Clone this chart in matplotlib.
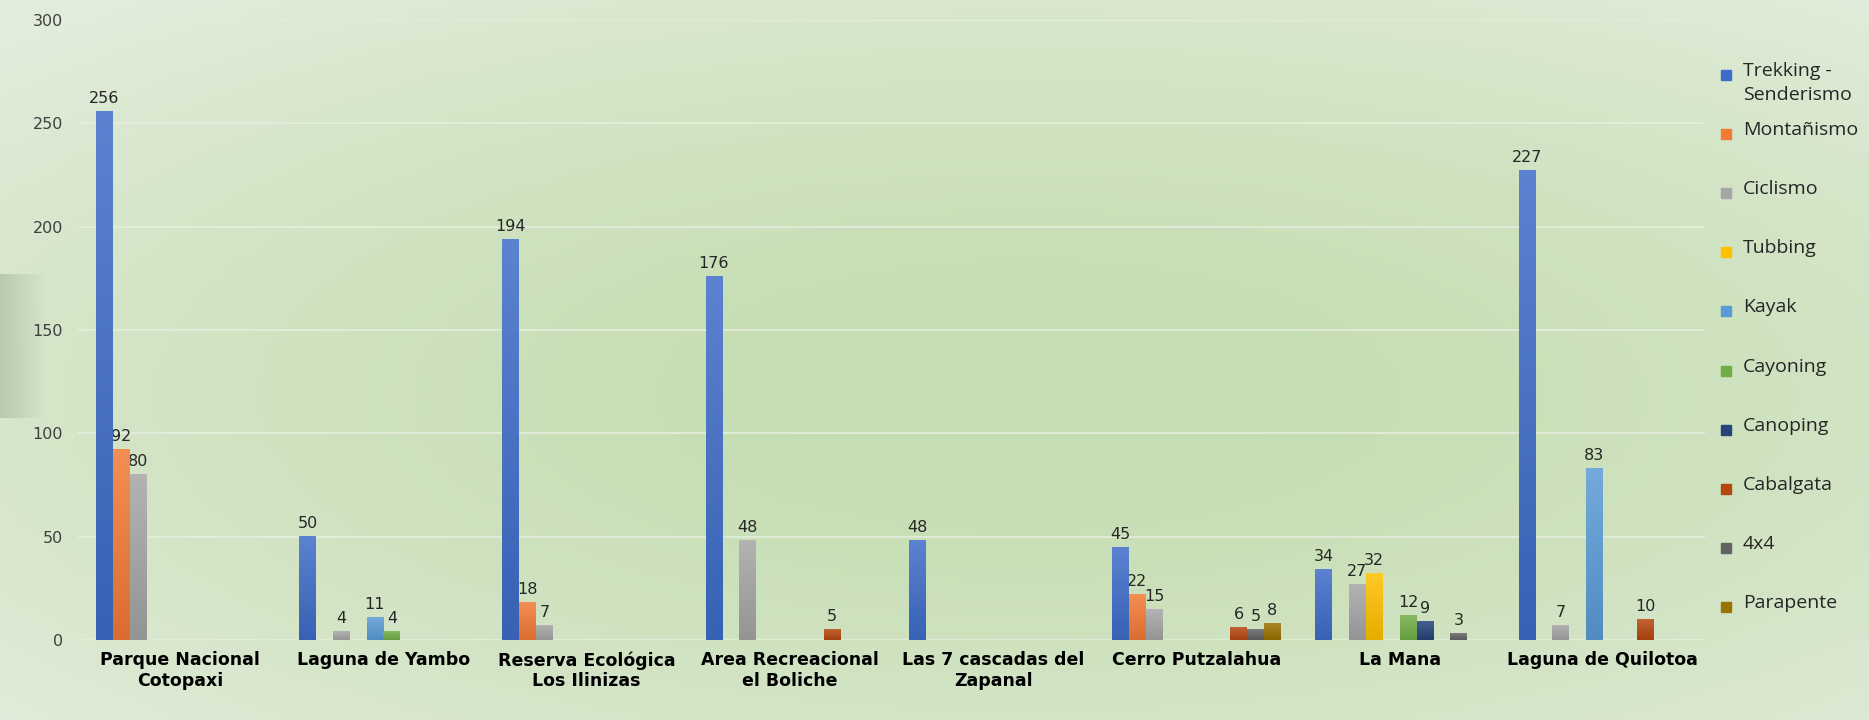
import numpy as np
import matplotlib.pyplot as plt
from matplotlib.patches import Rectangle
from matplotlib.colors import to_rgb

# Datos
lugares = ['Parque Nacional\nCotopaxi', 'Laguna de Yambo', 'Reserva Ecológica\nLos Ilinizas',
           'Area Recreacional\nel Boliche', 'Las 7 cascadas del\nZapanal', 'Cerro Putzalahua',
           'La Mana', 'Laguna de Quilotoa']
actividades = ['Trekking -\nSenderismo', 'Montañismo', 'Ciclismo', 'Tubbing', 'Kayak',
               'Cayoning', 'Canoping', 'Cabalgata', '4x4', 'Parapente']
trekking = [256, 50, 194, 176, 48, 45, 34, 227]
montanismo = [92, 0, 18, 0, 0, 22, 0, 0]
ciclismo = [80, 4, 7, 48, 0, 15, 27, 7]
tubbing = [0, 0, 0, 0, 0, 0, 32, 0]
kayak = [0, 11, 0, 0, 0, 0, 0, 83]
cayoning = [0, 4, 0, 0, 0, 0, 12, 0]
canoping = [0, 0, 0, 0, 0, 0, 9, 0]
cabalgata = [0, 0, 0, 5, 0, 6, 0, 10]
cuatro_x4 = [0, 0, 0, 0, 0, 5, 3, 0]
parapente = [0, 0, 0, 0, 0, 8, 0, 0]
series = [trekking, montanismo, ciclismo, tubbing, kayak, cayoning, canoping,
          cabalgata, cuatro_x4, parapente]
colores = ['#3f6cc8', '#f27a35', '#a5a5a5', '#ffc000', '#5b9bd5', '#70ad47',
           '#264478', '#b5470f', '#636363', '#997300']

W, H = 1869, 720
fig = plt.figure(figsize=(W / 100, H / 100), dpi=100)

# Fondo degradado verde
yy, xx = np.mgrid[0:1:200j, 0:1:400j]
d = np.sqrt(((xx - 0.55) / 0.75) ** 2 + ((yy - 0.55) / 0.7) ** 2)
d = np.clip(d, 0, 1)
centro = np.array([196, 221, 177]) / 255
borde = np.array([226, 236, 219]) / 255
grad = centro + (borde - centro) * d[..., None] ** 1.6
bg = fig.add_axes([0, 0, 1, 1], zorder=0)
bg.imshow(grad, extent=[0, 1, 0, 1], aspect='auto', origin='upper')
# mancha gris a la izquierda
mancha = np.zeros((1, 50, 4))
mancha[..., :3] = np.array([170, 186, 160]) / 255
mancha[..., 3] = np.linspace(0.65, 0, 50)
bg.imshow(mancha, extent=[0, 0.025, 0.42, 0.62], aspect='auto')
bg.set_xlim(0, 1)
bg.set_ylim(0, 1)
bg.axis('off')

ax = fig.add_axes([0.042, 0.111, 0.870, 0.861], zorder=1)
ax.patch.set_alpha(0)

x = np.arange(len(lugares))
w = 0.083
for i, (vals, c) in enumerate(zip(series, colores)):
    pos = x + (i - 4.5) * w
    barras = ax.bar(pos, vals, width=w, color=c, zorder=3)
    base = np.array(to_rgb(c))
    arriba = base + (1 - base) * 0.15
    abajo = base * 0.9
    g = np.linspace(arriba, abajo, 64)[:, None, :]
    for b in barras:
        if b.get_height() > 0:
            ax.imshow(g, extent=[b.get_x(), b.get_x() + b.get_width(), 0, b.get_height()],
                      aspect='auto', zorder=3.5, origin='upper')
    for p, v in zip(pos, vals):
        if v > 0:
            ax.annotate(str(v), (p, v), xytext=(0, 4), textcoords='offset points',
                        ha='center', va='bottom', fontsize=11.5, color='#262626')

ax.set_ylim(0, 300)
ax.set_xlim(-0.5, len(lugares) - 0.5)
ax.set_aspect('auto')
ax.set_yticks(range(0, 301, 50))
ax.yaxis.grid(True, color='#e4eedd', linewidth=1.2, zorder=0)
for s in ax.spines.values():
    s.set_visible(False)
ax.tick_params(axis='y', length=0, pad=11, labelsize=11.5, labelcolor='#404040')
ax.tick_params(axis='x', length=0, pad=8)
ax.set_xticks(x)
ax.set_xticklabels(lugares, fontsize=12.5, fontweight='bold', color='#000000')

# Leyenda
for i, (nombre, c) in enumerate(zip(actividades, colores)):
    yc = 75 + i * 59.1
    fig.add_artist(Rectangle((1721 / W, 1 - (yc + 5) / H), 10 / W, 10 / H,
                             color=c, transform=fig.transFigure))
    fig.text(1743 / W, 1 - (yc - 13) / H, nombre, ha='left', va='top',
             fontsize=14, family='Open Sans', color='#262626', linespacing=1.4)

plt.savefig('out.png', dpi=100)
